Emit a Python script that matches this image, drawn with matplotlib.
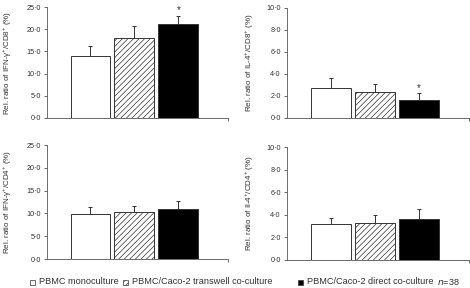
import numpy as np
import matplotlib
matplotlib.use('Agg')
import matplotlib.pyplot as plt
from matplotlib.patches import Rectangle

plt.rcParams['font.family'] = ['Liberation Sans', 'DejaVu Sans']
plt.rcParams['mathtext.default'] = 'regular'
plt.rcParams['hatch.linewidth'] = 0.5
plt.rcParams['hatch.color'] = '#555555'

# data
groups = ['PBMC monoculture', 'PBMC/Caco-2 transwell co-culture', 'PBMC/Caco-2 direct co-culture']
ifn_cd8 = [14.0, 18.1, 21.2]
ifn_cd8_err = [2.3, 2.7, 1.8]
il4_cd8 = [2.7, 2.37, 1.65]
il4_cd8_err = [0.9, 0.7, 0.57]
ifn_cd4 = [9.9, 10.2, 10.9]
ifn_cd4_err = [1.5, 1.4, 1.9]
il4_cd4 = [3.2, 3.24, 3.65]
il4_cd4_err = [0.55, 0.76, 0.82]
stars_ifn_cd8 = ['', '', '*']
stars_il4_cd8 = ['', '', '*']

ylabels = [r'Rel. ratio of IFN-$\gamma^{+}$/CD8$^{+}$ (%)',
           r'Rel. ratio of IL-4$^{+}$/CD8$^{+}$ (%)',
           r'Rel. ratio of IFN-$\gamma^{+}$/CD4$^{+}$ (%)',
           r'Rel. ratio of Il-4$^{+}$/CD4$^{+}$ (%)']

fills = ['white', 'white', 'black']
hatches = ['', '//////', '']
edge = '#333333'

W, H = 470, 288
fig = plt.figure(figsize=(W / 100, H / 100), dpi=100)

# axes boxes in pixels: left, right, top, bottom, label x
boxes = [(47, 228, 7, 118, 14), (287, 469, 7.5, 118, 256),
         (47, 228, 145, 259, 14), (287, 469, 147, 260, 256)]
panels = [(ifn_cd8, ifn_cd8_err, 25, stars_ifn_cd8),
          (il4_cd8, il4_cd8_err, 10, stars_il4_cd8),
          (ifn_cd4, ifn_cd4_err, 25, None),
          (il4_cd4, il4_cd4_err, 10, None)]

x = np.arange(3)
for (l, r, t, b, lx), (vals, errs, ymax, stars), lab in zip(boxes, panels, ylabels):
    ax = fig.add_axes([l / W, 1 - b / H, (r - l) / W, (b - t) / H])
    for i in range(3):
        ax.bar(x[i], vals[i], width=0.91, color=fills[i], edgecolor=edge,
               hatch=hatches[i], linewidth=0.7, zorder=2)
    ax.errorbar(x, vals, yerr=[[0, 0, 0], errs], fmt='none', ecolor=edge,
                elinewidth=0.7, capsize=1.6, capthick=0.7, zorder=1)
    if stars:
        for i, s in enumerate(stars):
            if s:
                ax.text(x[i], vals[i] + errs[i] + ymax * 0.005, s, ha='center',
                        va='bottom', fontsize=7, color='#333333')
    ax.set_xlim(-0.99, 3.13)
    ax.set_ylim(0, ymax)
    ticks = np.linspace(0, ymax, 6)
    ax.set_yticks(ticks)
    ax.set_yticklabels([f'{v:.1f}'.replace('.', '\u00b7') for v in ticks])
    ax.set_xticks([3.13])
    ax.set_xticklabels([])
    ax.tick_params(axis='x', length=2, width=0.6, color='#555555')
    ax.tick_params(axis='y', length=2.5, width=0.6, labelsize=5.2, pad=2,
                   color='#555555', labelcolor='#333333')
    for s in ['top', 'right']:
        ax.spines[s].set_visible(False)
    for s in ['left', 'bottom']:
        ax.spines[s].set_linewidth(0.6)
        ax.spines[s].set_color('#555555')
    ax.set_ylabel(lab, fontsize=5.8, color='#333333')
    ax.yaxis.set_label_coords((lx - l) / (r - l), 0.5)

# legend row along the bottom
ly = 282
items = [(30, 'white', ''), (123, 'white', '//////'), (298, 'black', '')]
for (px, fc, hh), g in zip(items, groups):
    fig.patches.append(Rectangle((px / W, 1 - (ly + 2.5) / H), 5 / W, 5 / H,
                                 transform=fig.transFigure, facecolor=fc,
                                 edgecolor=edge, hatch=hh, linewidth=0.5))
    fig.text((px + 9) / W, 1 - ly / H, g, fontsize=6.6, va='center',
             color='#333333')
fig.text(437 / W, 1 - ly / H, r'$\it{n}$=38', fontsize=6.6, va='center',
         color='#333333')

fig.savefig('out.png', dpi=100)
